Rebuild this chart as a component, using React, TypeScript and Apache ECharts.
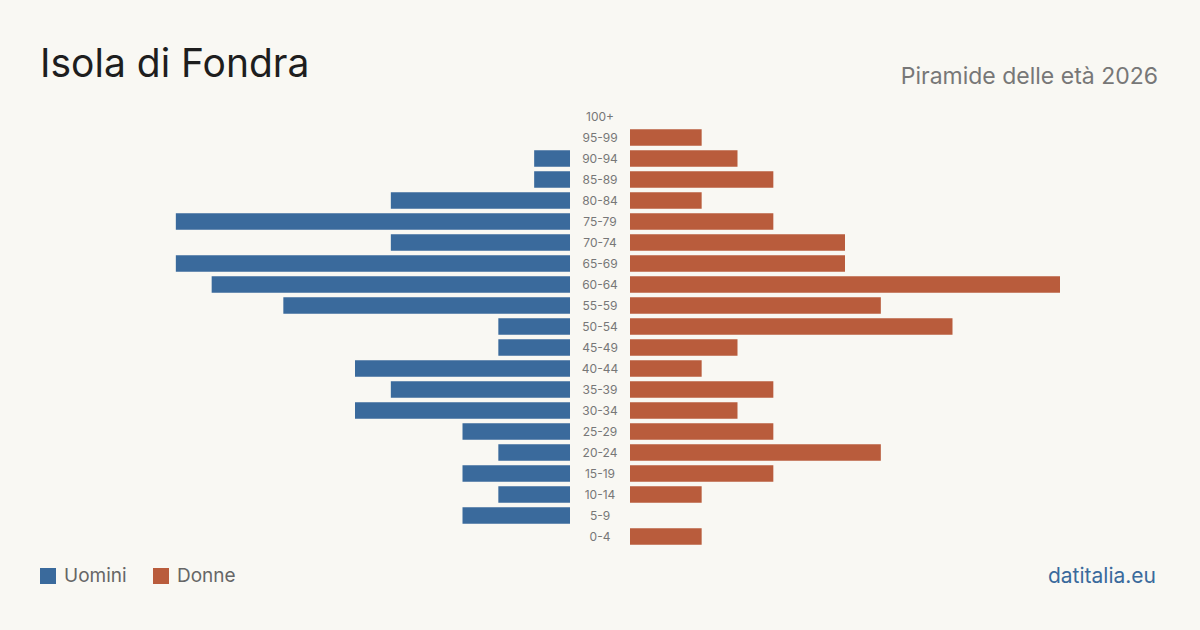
import React, { useEffect, useRef } from "react";
import * as echarts from "echarts";

const ageGroups = ["0-4","5-9","10-14","15-19","20-24","25-29","30-34","35-39","40-44","45-49","50-54","55-59","60-64","65-69","70-74","75-79","80-84","85-89","90-94","95-99","100+"];
const men = [0,3,2,3,2,3,6,5,6,2,2,8,10,11,5,11,5,1,1,0,0];
const women = [2,0,2,4,7,4,3,4,2,3,9,7,12,6,6,4,2,4,3,2,0];
const xMax = 12;

const BLUE = "#3a6a9c";
const ORANGE = "#b95c3c";
const BG = "#f9f8f3";
const FONT = "Inter, 'Noto Sans', sans-serif";

export default function App() {
  const ref = useRef<HTMLDivElement>(null);
  useEffect(() => {
    const chart = echarts.init(ref.current!, null, { renderer: "svg" });
    const top = 106;
    const height = 441;
    chart.setOption({
      animation: false,
      backgroundColor: BG,
      textStyle: { fontFamily: FONT },
      grid: [
        { left: 140, width: 430, top, height },
        { left: 630, width: 430, top, height },
      ],
      xAxis: [
        { gridIndex: 0, type: "value", min: 0, max: xMax, inverse: true, show: false },
        { gridIndex: 1, type: "value", min: 0, max: xMax, show: false },
      ],
      yAxis: [
        {
          gridIndex: 0, type: "category", data: ageGroups, position: "right",
          axisLine: { show: false }, axisTick: { show: false }, splitLine: { show: false },
          axisLabel: { align: "center", margin: 30, fontSize: 12, color: "#777", fontFamily: FONT },
        },
        {
          gridIndex: 1, type: "category", data: ageGroups, show: false,
        },
      ],
      series: [
        {
          name: "Uomini", type: "bar", xAxisIndex: 0, yAxisIndex: 0, data: men,
          itemStyle: { color: BLUE }, barCategoryGap: "22%",
        },
        {
          name: "Donne", type: "bar", xAxisIndex: 1, yAxisIndex: 1, data: women,
          itemStyle: { color: ORANGE }, barCategoryGap: "22%",
        },
      ],
      graphic: [
        { type: "text", left: 40, top: 43, style: { text: "Isola di Fondra", fontSize: 39, fill: "#1e1e1e", fontFamily: FONT } },
        { type: "text", right: 42, top: 64, style: { text: "Piramide delle età 2026", fontSize: 23, fill: "#777", fontFamily: FONT } },
        { type: "rect", shape: { x: 40, y: 568, width: 16, height: 16 }, style: { fill: BLUE } },
        { type: "text", left: 64, top: 566, style: { text: "Uomini", fontSize: 19, fill: "#666", fontFamily: FONT } },
        { type: "rect", shape: { x: 153, y: 568, width: 16, height: 16 }, style: { fill: ORANGE } },
        { type: "text", left: 177, top: 566, style: { text: "Donne", fontSize: 19, fill: "#666", fontFamily: FONT } },
        { type: "text", right: 44, top: 565, style: { text: "datitalia.eu", fontSize: 21, fill: BLUE, fontFamily: FONT } },
      ],
    });
    return () => chart.dispose();
  }, []);
  return <div ref={ref} style={{ width: 1200, height: 630, position: "absolute", left: 0, top: 0 }} />;
}
